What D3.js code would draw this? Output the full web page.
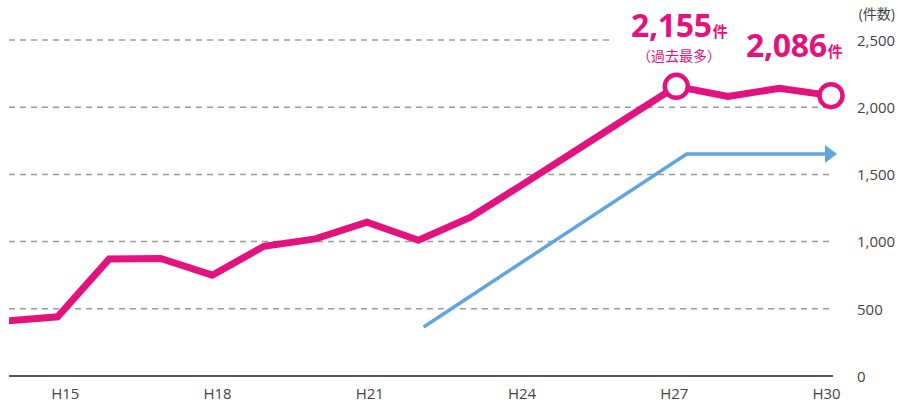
<!DOCTYPE html>
<html>
<head>
<meta charset="utf-8">
<script src="https://cdn.jsdelivr.net/npm/d3@7"></script>
<style>
  body { margin: 0; background: #fff; }
  svg { display: block; font-family: "Open Sans", "Noto Sans CJK JP", sans-serif; }
</style>
</head>
<body>
<svg id="chart" width="897" height="412"></svg>
<script>
// years (Heisei) and case counts
const years = ["H14", "H15", "H16", "H17", "H18", "H19", "H20", "H21", "H22",
               "H23", "H24", "H25", "H26", "H27", "H28", "H29", "H30"];
const counts = [410, 440, 870, 875, 750, 965, 1020, 1145, 1010,
                1180, 1420, 1665, 1910, 2155, 2080, 2140, 2086];
const tickLabels = ["H15", "H18", "H21", "H24", "H27", "H30"];
const yTicks = [0, 500, 1000, 1500, 2000, 2500];
// trend arrow, in (year index, count)
const trendIdx = [8.1, 13.2, 16.0];
const trendVal = [365, 1652, 1652];
// highlighted points
const highlights = [
  { year: "H27", big: "2,155", sub: "（過去最多）" },
  { year: "H30", big: "2,086", sub: null }
];

const pink = "#e2137e";
const blue = "#62a4dc";

const svg = d3.select("#chart");

const x = d3.scalePoint().domain(years).range([6, 831]);
const xLab = d3.scalePoint().domain(years).range([14, 826]);
const xIdx = d3.scaleLinear().domain([0, years.length - 1]).range([6, 831]);
const y = d3.scaleLinear().domain([0, 2500]).range([376, 40]);

// gridlines
svg.append("g")
  .selectAll("line")
  .data(yTicks.filter(d => d > 0))
  .join("line")
  .attr("x1", 9)
  .attr("x2", d => d === 2500 ? 610 : 833)
  .attr("y1", d => y(d))
  .attr("y2", d => y(d))
  .attr("stroke", "#9a9a9a")
  .attr("stroke-width", 1.5)
  .attr("stroke-dasharray", "6,5");

// baseline
svg.append("line")
  .attr("x1", 9).attr("x2", 833)
  .attr("y1", y(0)).attr("y2", y(0))
  .attr("stroke", "#555").attr("stroke-width", 2);

// y axis on the right
const yAxis = svg.append("g")
  .attr("transform", "translate(857,0)")
  .call(d3.axisRight(y).tickValues(yTicks).tickSize(0).tickFormat(d3.format(",")));
yAxis.select(".domain").remove();
yAxis.selectAll("text")
  .attr("x", 0).attr("dy", "0.35em")
  .attr("font-size", 15).attr("fill", "#444")
  .style("font-family", "'Open Sans', sans-serif");

svg.append("text")
  .attr("x", 895).attr("y", 19)
  .attr("text-anchor", "end")
  .attr("font-size", 14).attr("fill", "#444")
  .text("(件数)");

// x axis labels
const xAxis = svg.append("g")
  .attr("transform", `translate(0,${y(0)})`)
  .call(d3.axisBottom(xLab).tickValues(tickLabels).tickSize(0));
xAxis.select(".domain").remove();
xAxis.selectAll("text")
  .attr("y", 18).attr("dy", "0.35em")
  .attr("font-size", 15).attr("fill", "#444")
  .style("font-family", "'Open Sans', sans-serif");

// trend arrow
const trend = trendIdx.map((d, i) => [xIdx(d), y(trendVal[i])]);
svg.append("path")
  .attr("d", d3.line()(trend.slice(0, 2).concat([[trend[2][0] - 5, trend[2][1]]])))
  .attr("fill", "none")
  .attr("stroke", blue)
  .attr("stroke-width", 3.5);
const tip = trend[2];
svg.append("path")
  .attr("d", `M${tip[0] - 6},${tip[1] - 9} L${tip[0] + 6},${tip[1]} L${tip[0] - 6},${tip[1] + 9} Z`)
  .attr("fill", blue);

// main line
svg.append("clipPath").attr("id", "clip")
  .append("rect").attr("x", 9).attr("y", 0).attr("width", 880).attr("height", 412);

svg.append("path")
  .datum(counts)
  .attr("clip-path", "url(#clip)")
  .attr("d", d3.line().x((d, i) => x(years[i])).y(d => y(d)))
  .attr("fill", "none")
  .attr("stroke", pink)
  .attr("stroke-width", 7)
  .attr("stroke-linejoin", "miter");

// highlight circles
svg.append("g")
  .selectAll("circle")
  .data(highlights)
  .join("circle")
  .attr("cx", d => x(d.year))
  .attr("cy", d => y(counts[years.indexOf(d.year)]))
  .attr("r", 11.5)
  .attr("fill", "#fff")
  .attr("stroke", pink)
  .attr("stroke-width", 4.5);

// annotations
const ann = svg.append("g").attr("fill", pink).attr("font-weight", "bold");
const a1 = ann.append("text").attr("x", 631).attr("y", 37);
a1.append("tspan").attr("font-size", 32).attr("letter-spacing", -0.3).text(highlights[0].big);
a1.append("tspan").attr("font-size", 15).attr("dx", 1).text("件");
ann.append("text")
  .attr("x", 679).attr("y", 61)
  .attr("text-anchor", "middle")
  .attr("font-size", 14).attr("font-weight", "normal")
  .text(highlights[0].sub);
const a2 = ann.append("text").attr("x", 746).attr("y", 57);
a2.append("tspan").attr("font-size", 32).attr("letter-spacing", -0.3).text(highlights[1].big);
a2.append("tspan").attr("font-size", 15).attr("dx", 1).text("件");
</script>
</body>
</html>
